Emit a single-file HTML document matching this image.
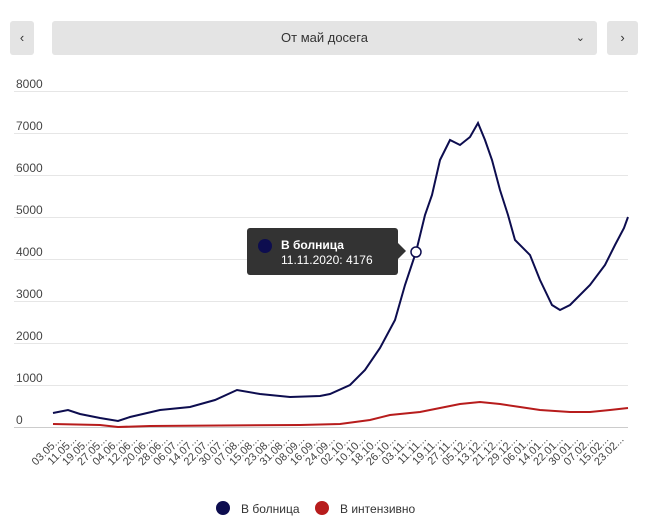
<!DOCTYPE html>
<html><head><meta charset="utf-8"><style>
body{margin:0;background:#fff;font-family:"Liberation Sans",sans-serif;}
.btn{position:absolute;top:21px;height:34px;background:#e4e4e4;border-radius:3px;color:#333;font-size:13px;line-height:34px;text-align:center}
</style></head><body>
<div style="position:relative;width:648px;height:525px;overflow:hidden">
<div class="btn" style="left:10px;width:24px">‹</div>
<div class="btn" style="left:52px;width:545px">От май досега<span style="position:absolute;right:12px;font-size:11px">⌄</span></div>
<div class="btn" style="left:607px;width:31px">›</div>
<svg width="648" height="525" style="position:absolute;left:0;top:0" font-family="Liberation Sans, sans-serif">
<g stroke="#e6e6e6" stroke-width="1">
<line x1="14" x2="628" y1="91.5" y2="91.5"/><line x1="14" x2="628" y1="133.5" y2="133.5"/>
<line x1="14" x2="628" y1="175.5" y2="175.5"/><line x1="14" x2="628" y1="217.5" y2="217.5"/>
<line x1="14" x2="628" y1="259.5" y2="259.5"/><line x1="14" x2="628" y1="301.5" y2="301.5"/>
<line x1="14" x2="628" y1="343.5" y2="343.5"/><line x1="14" x2="628" y1="385.5" y2="385.5"/>
<line x1="14" x2="628" y1="427.5" y2="427.5" stroke="#ccc"/>
</g>
<g font-size="12" fill="#444">
<text x="16" y="88">8000</text><text x="16" y="130">7000</text><text x="16" y="172">6000</text>
<text x="16" y="214">5000</text><text x="16" y="256">4000</text><text x="16" y="298">3000</text>
<text x="16" y="340">2000</text><text x="16" y="382">1000</text><text x="16" y="424">0</text>
</g>
<polyline fill="none" stroke="#b71c1c" stroke-width="2" points="53,424 100,425 118,427 150,426 300,425 340,424 370,420 390,415 420,412 440,408 460,404 480,402 500,404 520,407 540,410 570,412 590,412 610,410 628,408"/>
<polyline fill="none" stroke="#0d0d4f" stroke-width="2" points="53,413 68,410 80,414 100,418 118,421 130,417 160,410 190,407 215,400 237,390 260,394 290,397 320,396 330,394 350,385 365,370 380,348 395,320 405,285 416,252 425,215 432,195 440,160 450,140 460,145 470,137 478,123 485,140 492,160 500,190 508,215 515,240 530,255 540,280 552,305 560,310 570,305 590,285 605,265 615,245 624,228 628,217"/>
<circle cx="416" cy="252" r="5" fill="#fff" stroke="#0d0d4f" stroke-width="1.5"/>
<g font-size="11" fill="#444" id="ticks"></g>
<rect x="247" y="228" width="151" height="47" rx="3" fill="#333"/>
<polygon points="398,243 406,251 398,259" fill="#333"/>
<circle cx="265" cy="246" r="7" fill="#0d0d4f"/>
<text x="281" y="249" fill="#fff" font-size="12" font-weight="bold">В болница</text>
<text x="281" y="264" fill="#fff" font-size="12">11.11.2020: 4176</text>
<circle cx="223" cy="508" r="7" fill="#0d0d4f"/>
<text x="241" y="513" font-size="12" fill="#333">В болница</text>
<circle cx="322" cy="508" r="7" fill="#b71c1c"/>
<text x="340" y="513" font-size="12" fill="#333">В интензивно</text>
</svg>
<script>
var L=["03.05","11.05","19.05","27.05","04.06","12.06","20.06","28.06","06.07","14.07","22.07","30.07","07.08","15.08","23.08","31.08","08.09","16.09","24.09","02.10","10.10","18.10","26.10","03.11","11.11","19.11","27.11","05.12","13.12","21.12","29.12","06.01","14.01","22.01","30.01","07.02","15.02","23.02"];
var g=document.getElementById("ticks"),s="";
for(var i=0;i<L.length;i++){var x=62+i*15.2;s+='<text transform="translate('+x+',440) rotate(-45)" text-anchor="end">'+L[i]+'...</text>';}
g.innerHTML=s;
</script>
</div></body></html>
